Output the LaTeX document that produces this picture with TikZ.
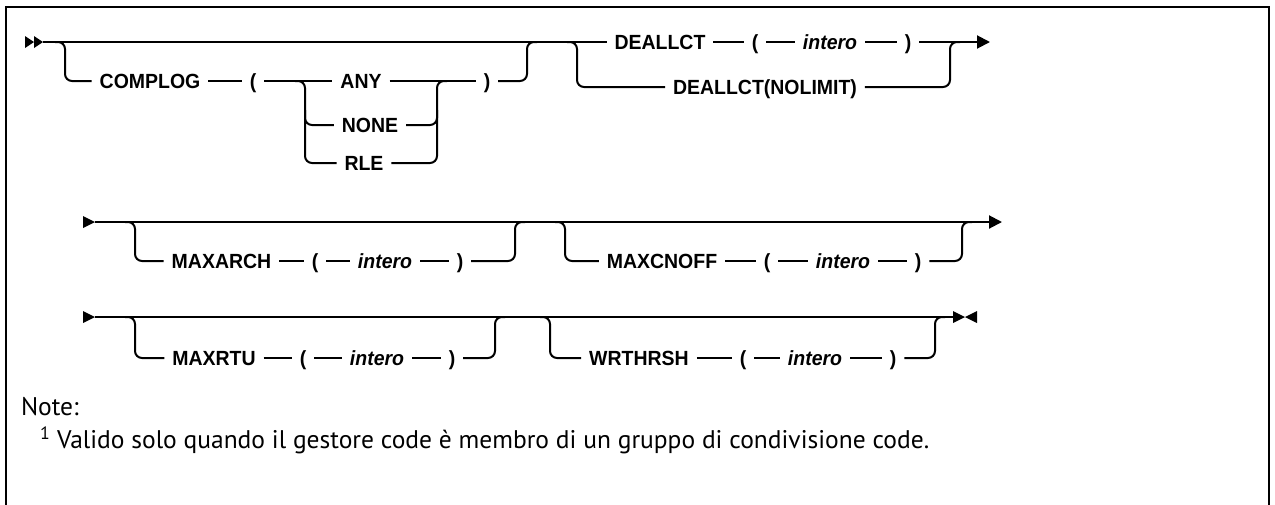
\documentclass[tikz,border=0pt]{standalone}
\usepackage{fontspec}
\usetikzlibrary{arrows.meta}
\newfontfamily\lblfamily[FakeStretch=0.95]{Liberation Sans}
\newfontfamily\notefamily{PT Sans}
\begin{document}
\begin{tikzpicture}[x=1pt,y=-1pt,line width=2pt,
  rr/.style={rounded corners=7pt},
  lbl/.style={font=\lblfamily\bfseries\fontsize{20.5}{21}\selectfont,inner xsep=7pt,inner ysep=0pt,text height=14.6pt,text depth=0pt},
  itl/.style={lbl,font=\lblfamily\bfseries\itshape\fontsize{20.5}{21}\selectfont},
  notetxt/.style={font=\notefamily\fontsize{25.5}{28}\selectfont,anchor=west,inner sep=0pt},
  endarrow/.style={-{Triangle[length=13pt,width=13pt]}}]
\useasboundingbox (0,0) rectangle (1275,504);
% frame
\draw[line width=2.5pt] (6,530) -- (6,7) -- (1269,7) -- (1269,530);

% ---------- Row 1 ----------
\fill (25,36) -- (34,42) -- (25,48) -- cycle;
\fill (34,36) -- (43,42) -- (34,48) -- cycle;
\coordinate (s1) at (43,42);
\node[lbl] (complog) at (150,81) {COMPLOG};
\node[lbl] (lp1) at (253,81) {(};
\node[lbl] (any) at (361,81) {ANY};
\node[lbl] (none) at (370,125) {NONE};
\node[lbl] (rle) at (364,163) {RLE};
\node[lbl] (rp1) at (487,81) {)};
\node[lbl] (deallct) at (660,42) {DEALLCT};
\node[lbl] (lp2) at (755,42) {(};
\node[itl] (int1) at (830,42) {intero};
\node[lbl] (rp2) at (908,42) {)};
\node[lbl] (nolimit) at (765,87) {DEALLCT(NOLIMIT)};
\coordinate (e1) at (990,42);

\draw (s1) -- (deallct.west);
\draw[rr] (55,42) -- (65,42) -- (65,81) -- (complog.west);
\draw (complog.east) -- (lp1.west);
\draw (lp1.east) -- (any.west);
\draw[rr] (295,81) -- (305,81) -- (305,125) -- (none.west);
\draw[rr] (305,110) -- (305,163) -- (rle.west);
\draw (any.east) -- (rp1.west);
\draw[rr] (none.east) -- (437,125) -- (437,110);
\draw[rr] (rle.east) -- (437,163) -- (437,81) -- (447,81);
\draw[rr] (rp1.east) -- (527,81) -- (527,42) -- (537,42);
\draw[rr] (567,42) -- (577,42) -- (577,87) -- (nolimit.west);
\draw (deallct.east) -- (lp2.west);
\draw (lp2.east) -- (int1.west);
\draw (int1.east) -- (rp2.west);
\draw[endarrow] (rp2.east) -- (e1);
\draw[rr] (nolimit.east) -- (950,87) -- (950,42) -- (960,42);

% ---------- Row 2 ----------
\fill (83,216) -- (95,222) -- (83,228) -- cycle;
\coordinate (s2) at (95,222);
\node[lbl] (maxarch) at (221.5,261) {MAXARCH};
\node[lbl] (lp3) at (315,261) {(};
\node[itl] (int2) at (385,261) {intero};
\node[lbl] (rp3) at (460,261) {)};
\node[lbl] (maxcnoff) at (662,261) {MAXCNOFF};
\node[lbl] (lp4) at (767,261) {(};
\node[itl] (int3) at (843,261) {intero};
\node[lbl] (rp4) at (918,261) {)};
\coordinate (e2) at (1002,222);

\draw[endarrow] (s2) -- (e2);
\draw[rr] (125,222) -- (135,222) -- (135,261) -- (maxarch.west);
\draw (maxarch.east) -- (lp3.west);
\draw (lp3.east) -- (int2.west);
\draw (int2.east) -- (rp3.west);
\draw[rr] (rp3.east) -- (515,261) -- (515,222) -- (525,222);
\draw[rr] (555,222) -- (565,222) -- (565,261) -- (maxcnoff.west);
\draw (maxcnoff.east) -- (lp4.west);
\draw (lp4.east) -- (int3.west);
\draw (int3.east) -- (rp4.west);
\draw[rr] (rp4.east) -- (962,261) -- (962,222) -- (972,222);

% ---------- Row 3 ----------
\fill (83,311) -- (95,317) -- (83,323) -- cycle;
\coordinate (s3) at (95,317);
\node[lbl] (maxrtu) at (214,358) {MAXRTU};
\node[lbl] (lp5) at (303,358) {(};
\node[itl] (int4) at (377,358) {intero};
\node[lbl] (rp5) at (452,358) {)};
\node[lbl] (wrthrsh) at (639,358) {WRTHRSH};
\node[lbl] (lp6) at (743,358) {(};
\node[itl] (int5) at (815,358) {intero};
\node[lbl] (rp6) at (893,358) {)};
\coordinate (e3) at (953,317);

\draw (s3) -- (e3);
\draw[rr] (125,317) -- (135,317) -- (135,358) -- (maxrtu.west);
\draw (maxrtu.east) -- (lp5.west);
\draw (lp5.east) -- (int4.west);
\draw (int4.east) -- (rp5.west);
\draw[rr] (rp5.east) -- (495,358) -- (495,317) -- (505,317);
\draw[rr] (540,317) -- (550,317) -- (550,358) -- (wrthrsh.west);
\draw (wrthrsh.east) -- (lp6.west);
\draw (lp6.east) -- (int5.west);
\draw (int5.east) -- (rp6.west);
\draw[rr] (rp6.east) -- (935,358) -- (935,317) -- (945,317);
\fill (953,311) -- (965,317) -- (953,323) -- cycle;
\fill (977,311) -- (965,317) -- (977,323) -- cycle;

% ---------- Notes ----------
\node[notetxt] (note) at (20,407) {Note:};
\node[notetxt] (fn) at (39,440) {\textsuperscript{1} Valido solo quando il gestore code è membro di un gruppo di condivisione code.};
\end{tikzpicture}
\end{document}
